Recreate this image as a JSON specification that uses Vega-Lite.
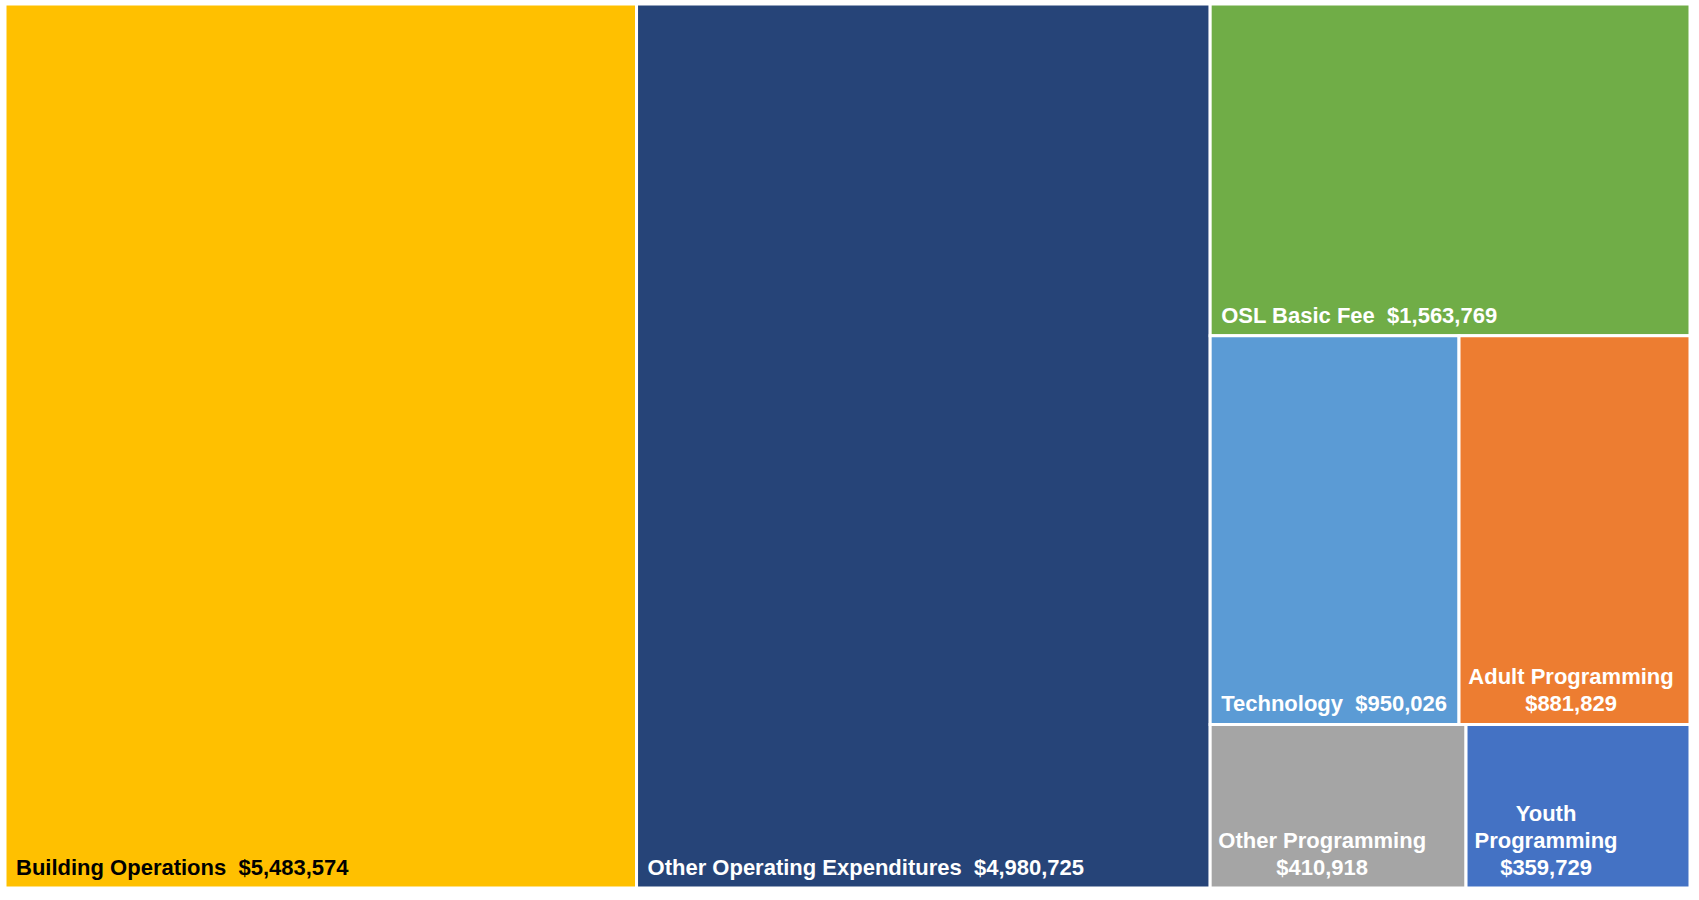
{
  "$schema": "https://vega.github.io/schema/vega-lite/v6.json",
  "autosize": "none",
  "width": 1685,
  "height": 884,
  "padding": {"left": 5, "top": 4, "right": 9, "bottom": 12},
  "background": "white",
  "config": {"view": {"stroke": null}},
  "data": {
    "values": [
      {"name": "Building Operations", "value": 5483574, "col": 1, "row": 1, "ord": 1, "label": "Building Operations\u00a0 $5,483,574"},
      {"name": "Other Operating Expenditures", "value": 4980725, "col": 2, "row": 1, "ord": 2, "label": "Other Operating Expenditures\u00a0 $4,980,725"},
      {"name": "OSL Basic Fee", "value": 1563769, "col": 3, "row": 1, "ord": 3, "label": "OSL Basic Fee\u00a0 $1,563,769"},
      {"name": "Technology", "value": 950026, "col": 3, "row": 2, "ord": 4, "label": "Technology\u00a0 $950,026"},
      {"name": "Adult Programming", "value": 881829, "col": 3, "row": 2, "ord": 5, "label": "Adult Programming\n$881,829"},
      {"name": "Other Programming", "value": 410918, "col": 3, "row": 3, "ord": 6, "label": "Other Programming\n$410,918"},
      {"name": "Youth Programming", "value": 359729, "col": 3, "row": 3, "ord": 7, "label": "Youth\nProgramming\n$359,729"}
    ]
  },
  "transform": [
    {"joinaggregate": [{"op": "sum", "field": "value", "as": "colTotal"}], "groupby": ["col"]},
    {"joinaggregate": [{"op": "sum", "field": "value", "as": "rowTotal"}], "groupby": ["col", "row"]},
    {"stack": "value", "groupby": [], "sort": [{"field": "ord"}], "as": ["g0", "g1"]},
    {"joinaggregate": [{"op": "min", "field": "g0", "as": "colStart"}], "groupby": ["col"]},
    {"stack": "value", "groupby": ["col"], "sort": [{"field": "ord"}], "as": ["c0", "c1"]},
    {"joinaggregate": [{"op": "min", "field": "c0", "as": "rowStart"}], "groupby": ["col", "row"]},
    {"stack": "value", "groupby": ["col", "row"], "sort": [{"field": "ord"}], "as": ["r0", "r1"]},
    {"calculate": "datum.colStart + datum.r0 / datum.rowTotal * datum.colTotal", "as": "x0"},
    {"calculate": "datum.colStart + datum.r1 / datum.rowTotal * datum.colTotal", "as": "x1"},
    {"calculate": "datum.rowStart / datum.colTotal", "as": "y0"},
    {"calculate": "(datum.rowStart + datum.rowTotal) / datum.colTotal", "as": "y1"}
  ],
  "layer": [
    {
      "mark": {"type": "rect", "stroke": "white", "strokeWidth": 3},
      "encoding": {
        "x": {"field": "x0", "type": "quantitative", "axis": null, "scale": {"nice": false, "zero": true}},
        "x2": {"field": "x1"},
        "y": {"field": "y0", "type": "quantitative", "axis": null, "scale": {"domain": [0, 1], "reverse": true, "nice": false}},
        "y2": {"field": "y1"},
        "color": {
          "field": "name", "type": "nominal", "legend": null,
          "scale": {
            "domain": ["Building Operations", "Other Operating Expenditures", "OSL Basic Fee", "Technology", "Adult Programming", "Other Programming", "Youth Programming"],
            "range": ["#FFC000", "#264478", "#70AD47", "#5B9BD5", "#ED7D31", "#A5A5A5", "#4472C4"]
          }
        }
      }
    },
    {
      "transform": [{"filter": "datum.row === 1 || datum.name === 'Technology'"}],
      "mark": {"type": "text", "font": "Liberation Sans", "fontWeight": "bold", "fontSize": 22, "align": "left", "baseline": "bottom", "dx": 11, "dy": -8},
      "encoding": {
        "x": {"field": "x0", "type": "quantitative"},
        "y": {"field": "y1", "type": "quantitative"},
        "text": {"field": "label"},
        "color": {"condition": {"test": "datum.name === 'Building Operations'", "value": "black"}, "value": "white"}
      }
    },
    {
      "transform": [{"filter": "datum.name === 'Adult Programming' || datum.name === 'Other Programming'"}],
      "mark": {"type": "text", "font": "Liberation Sans", "fontWeight": "bold", "fontSize": 22, "align": "center", "baseline": "bottom", "lineBreak": "\n", "lineHeight": 27, "dx": 112, "dy": -35, "color": "white"},
      "encoding": {
        "x": {"field": "x0", "type": "quantitative"},
        "y": {"field": "y1", "type": "quantitative"},
        "text": {"field": "label"}
      }
    },
    {
      "transform": [{"filter": "datum.name === 'Youth Programming'"}],
      "mark": {"type": "text", "font": "Liberation Sans", "fontWeight": "bold", "fontSize": 22, "align": "center", "baseline": "bottom", "lineBreak": "\n", "lineHeight": 27, "dx": 80, "dy": -62, "color": "white"},
      "encoding": {
        "x": {"field": "x0", "type": "quantitative"},
        "y": {"field": "y1", "type": "quantitative"},
        "text": {"field": "label"}
      }
    }
  ]
}
